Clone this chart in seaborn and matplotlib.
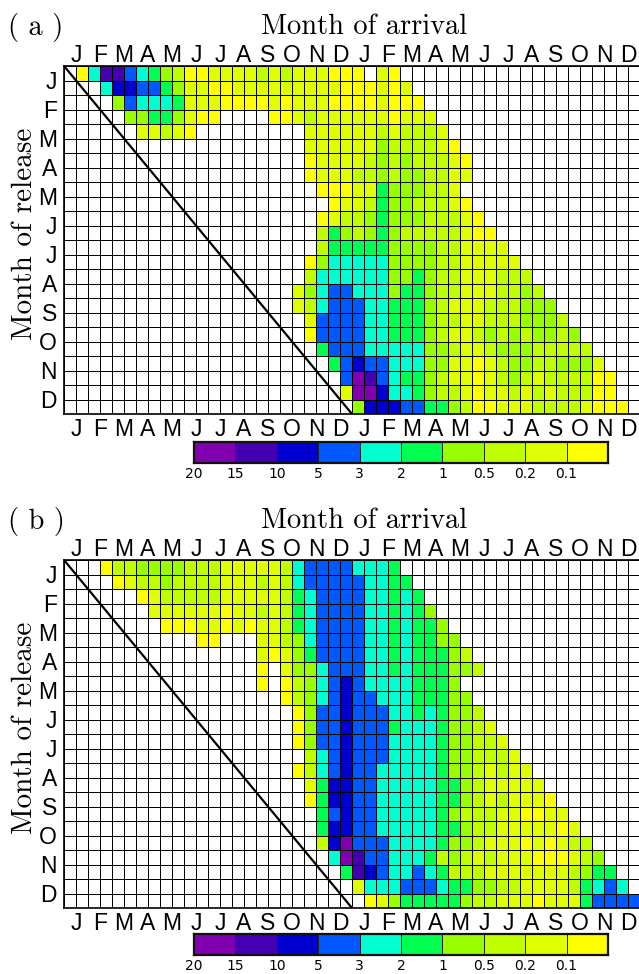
import matplotlib
matplotlib.use('Agg')
import matplotlib.pyplot as plt
from matplotlib.colors import ListedColormap
import seaborn as sns
import numpy as np
import pandas as pd

months = ['J', 'F', 'M', 'A', 'M', 'J', 'J', 'A', 'S', 'O', 'N', 'D']
class_labels = ['20', '15', '10', '5', '3', '2', '1', '0.5', '0.2', '0.1']
class_levels = [9, 8, 7, 6, 5, 4, 3, 2, 1, 0]

# percent class of each release/arrival cell, '.' = nothing arrives
rows_a = [
    ".058865432" + "0011112121" + "11000.10",
    "...5776643" + "1100111111" + "111000101",
    "....365554" + "1110000101" + "1100001000",
    ".....33443" + "100....001" + "21111110111",
    "......1121" + "0........." + "111111212221",
    '.' * 20 + "1111113222210",
    '.' * 20 + "01111232322210",
    '.' * 20 + "01112232332211",
    '.' * 20 + ".000114333221",
    '.' * 20 + "..011243322210",
    '.' * 20 + ".01223433322210",
    '.' * 20 + ".243234322222100",
    '.' * 20 + ".2444443333221111",
    '.' * 20 + "035555533332211111",
    '.' * 20 + "2555555334322111222",
    '.' * 19 + "13" + "5665553443221112232",
    '.' * 19 + "12" + "56665544432111222333",
    '.' * 20 + "1" + "666655444322112223332",
    '.' * 20 + "0" + "6666554443211232323323",
    '.' * 21 + "46665555533211233322222",
    '.' * 22 + "46766555331101233223331",
    '.' * 23 + "69865443211012321222200",
    '.' * 23 + "19975543221011212122200",
    '.' * 24 + "37776644320011122221000",
]

rows_b = [
    '.' * 3 + "0223333" + "222" + "11111" + "2" + "5" + "6666" + "555" + "4",
    '.' * 4 + "0122" + "3" + "2222" + "111" + "2" + "1" + "2" + "5" + "66666" + "55" + "44",
    '.' * 6 + "012222211111245666655454",
    '.' * 7 + "111111011212456666554543",
    '.' * 8 + "000110101124566665545443",
    '.' * 11 + "00..." + "11235666655454433",
    '.' * 16 + "101346666554544432",
    '.' * 16 + "0." + "13356665545444332",
    '.' * 16 + "0." + "023567655554443",
    '.' * 18 + "0235676655544433",
    '.' * 19 + "0366766655454332",
    '.' * 19 + "03667666455543321",
    '.' * 19 + "036676665555433221",
    '.' * 20 + "256766655554332221",
    '.' * 19 + "0" + "2567665555543321211",
    '.' * 20 + "14776655555443211111",
    '.' * 20 + "047766555554432121110",
    '.' * 21 + "467665555543222110011",
    '.' * 21 + "4776655555443221111101",
    '.' * 21 + "27966655554332111010122",
    '.' * 22 + "59866555423212111000123",
    '.' * 23 + "48765565422211111112344",
    '.' * 24 + "15556665443322111124565",
    '.' * 25 + "01344444322111011146666",
]

colors = ['#ffffff', '#ffff00', '#e0ff00', '#c0ff00', '#98ff00', '#00ff50',
          '#00ffd0', '#0058ff', '#0000d0', '#4400b0', '#8000b0']
cmap = ListedColormap(colors)

W, H = 639, 974
SANS = 'Liberation Sans'
SERIF = 'cmr10'

sns.set_theme(style='white')
plt.rcParams['axes.formatter.use_mathtext'] = True


def to_frame(rows):
    cells = [[-1 if c == '.' else int(c) for c in r.ljust(48, '.')] for r in rows]
    return pd.DataFrame(cells)


def px_axes(fig, left, top, right, bottom):
    return fig.add_axes([left / W, 1 - bottom / H, (right - left) / W, (bottom - top) / H])


def draw_panel(fig, rows, tag, top, cb_gap):
    bottom = top + 348
    ax = px_axes(fig, 64, top, 640, bottom)
    frame = to_frame(rows)
    sns.heatmap(frame, ax=ax, vmin=-1.5, vmax=9.5, cmap=cmap, cbar=False,
                linewidths=0.55, linecolor='black')
    n_rows = frame.shape[0]
    ax.plot([0, n_rows], [0, n_rows], color='black', lw=1.6, solid_capstyle='butt')

    xticks = np.arange(1, 48, 2)
    ax.set_xticks(xticks)
    ax.set_xticklabels(months * 2, rotation=0, fontsize=16.5, family=SANS, color='black')
    ax.set_yticks(np.arange(1, 24, 2) + 0.15)
    ax.set_yticklabels(months, rotation=0, fontsize=16.5, family=SANS, color='black')
    ax.tick_params(axis='x', top=False, bottom=False, length=0, pad=3)
    ax.tick_params(axis='y', left=False, length=0, pad=5)

    # top month row sits closer to the frame than the bottom one
    sec = ax.secondary_xaxis('top')
    sec.set_xticks(xticks)
    sec.set_xticklabels(months * 2, fontsize=16.5, family=SANS, color='black')
    sec.tick_params(axis='x', length=0, pad=-0.5)
    sec.spines['top'].set_visible(False)

    for s in ax.spines.values():
        s.set_visible(True)
        s.set_color('black')
        s.set_linewidth(1.2)

    fig.text(364 / W, 1 - (top - 39) / H, 'Month of arrival', family=SERIF, fontsize=20.5,
             color='black', ha='center', va='center')
    fig.text(8 / W, 1 - (top - 39) / H, '( %s )' % tag, family=SERIF, fontsize=20.5,
             color='black', ha='left', va='center')
    fig.text(25 / W, 1 - (top + 168) / H, 'Month of release', family=SERIF, fontsize=21,
             color='black', ha='center', va='center', rotation=90)

    # class legend under the panel
    cb = px_axes(fig, 194, bottom + cb_gap, 608, bottom + cb_gap + 21)
    sns.heatmap(pd.DataFrame([class_levels]), ax=cb, vmin=-1.5, vmax=9.5, cmap=cmap, cbar=False,
                linewidths=0.6, linecolor='#222222', xticklabels=False, yticklabels=False)
    cb.set_xticks(np.arange(len(class_labels)))
    cb.set_xticklabels(class_labels, rotation=0, fontsize=10, family='DejaVu Sans', color='black')
    cb.tick_params(axis='x', length=0, bottom=False, pad=3)
    for s in cb.spines.values():
        s.set_visible(True)
        s.set_color('#111111')
        s.set_linewidth(1.6)
    return ax


fig = plt.figure(figsize=(W / 100, H / 100), dpi=100)
draw_panel(fig, rows_a, 'a', 66, 28)
draw_panel(fig, rows_b, 'b', 560, 26)
fig.savefig('out.png', dpi=100)
